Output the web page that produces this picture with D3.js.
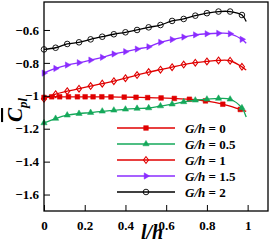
<!DOCTYPE html>
<html>
<head>
<meta charset="utf-8">
<script src="https://cdn.jsdelivr.net/npm/d3@7"></script>
<style>
  body { margin: 0; background: #fff; }
  text { font-family: "Liberation Serif", "Times New Roman", serif; font-weight: bold; }
</style>
</head>
<body>
<div id="chart"></div>
<script>
// l/h stations for the markers (last value is the line end, no marker)
var xSquares = [0, 0.038, 0.077, 0.12, 0.164, 0.202, 0.241, 0.284, 0.329, 0.394, 0.452, 0.509, 0.575, 0.64, 0.714, 0.793, 0.878, 0.964, 0.993];
var xCommon = [0, 0.057, 0.114, 0.172, 0.229, 0.286, 0.343, 0.4, 0.457, 0.514, 0.572, 0.629, 0.686, 0.743, 0.8, 0.857, 0.914, 0.972, 0.993];

// Cpl values
var gh0   = [-1.01, -1.006, -1.006, -1.006, -1.006, -1.006, -1.006, -1.006, -1.007, -1.008, -1.009, -1.011, -1.013, -1.016, -1.021, -1.031, -1.051, -1.083, -1.094];
var gh05  = [-1.165, -1.138, -1.118, -1.108, -1.102, -1.094, -1.088, -1.082, -1.077, -1.074, -1.062, -1.051, -1.037, -1.027, -1.021, -1.016, -1.021, -1.074, -1.129];
var gh1   = [-1.018, -0.99, -0.972, -0.957, -0.941, -0.926, -0.911, -0.893, -0.874, -0.856, -0.841, -0.826, -0.81, -0.799, -0.791, -0.785, -0.787, -0.824, -0.844];
var gh15  = [-0.862, -0.834, -0.813, -0.799, -0.783, -0.766, -0.746, -0.732, -0.716, -0.702, -0.675, -0.658, -0.643, -0.63, -0.623, -0.62, -0.623, -0.657, -0.681];
var gh2   = [-0.718, -0.708, -0.685, -0.675, -0.657, -0.641, -0.626, -0.614, -0.6, -0.584, -0.57, -0.545, -0.533, -0.513, -0.498, -0.488, -0.488, -0.509, -0.549];

var labels = ["0", "0.5", "1", "1.5", "2"];
var xTicks = [0, 0.2, 0.4, 0.6, 0.8, 1];
var yTicks = [-1.6, -1.4, -1.2, -1, -0.8, -0.6];

var series = [
  { name: labels[0], x: xSquares, y: gh0,  color: "#e00000", shape: "square",   fill: true },
  { name: labels[1], x: xCommon,  y: gh05, color: "#14a85a", shape: "triangle", fill: true },
  { name: labels[2], x: xCommon,  y: gh1,  color: "#e00000", shape: "diamond",  fill: false },
  { name: labels[3], x: xCommon,  y: gh15, color: "#8a2cff", shape: "right",    fill: true },
  { name: labels[4], x: xCommon,  y: gh2,  color: "#000000", shape: "circle",   fill: false }
];

var width = 271, height = 241;
var margin = { top: 2, right: 3, bottom: 30, left: 44 };

var svg = d3.select("#chart").append("svg")
    .attr("width", width)
    .attr("height", height);

var x = d3.scaleLinear().domain([0, 1.1]).range([margin.left, width - margin.right]);
var y = d3.scaleLinear().domain([-1.7, -0.43]).range([height - margin.bottom, margin.top]);

// marker shapes
function marker(sel, shape, color, fill) {
  var p;
  if (shape == "circle") {
    p = sel.append("circle").attr("r", 2.8);
  } else {
    var sym = { square: d3.symbolSquare, diamond: d3.symbolDiamond, triangle: d3.symbolTriangle, right: d3.symbolTriangle }[shape];
    var size = { square: 22, diamond: 13, triangle: 17, right: 17 }[shape];
    p = sel.append("path").attr("d", d3.symbol().type(sym).size(size)());
    if (shape == "right") p.attr("transform", "rotate(90)");
    if (shape == "diamond") p.attr("transform", "scale(1.3,1)");
  }
  p.attr("fill", fill ? color : "none")
   .attr("stroke", color)
   .attr("stroke-width", fill ? 0.5 : 0.9);
}

var line = d3.line()
    .x(function(d) { return x(d[0]); })
    .y(function(d) { return y(d[1]); })
    .curve(d3.curveCatmullRom);

// curves
series.forEach(function(s) {
  var pts = s.x.map(function(v, i) { return [v, s.y[i]]; });
  svg.append("path")
      .datum(pts)
      .attr("fill", "none")
      .attr("stroke", s.color)
      .attr("stroke-width", 1.3)
      .attr("d", line);
  svg.append("g").selectAll("g")
      .data(pts.slice(0, pts.length - 1))
      .enter().append("g")
      .attr("transform", function(d) { return "translate(" + x(d[0]) + "," + y(d[1]) + ")"; })
      .each(function() { marker(d3.select(this), s.shape, s.color, s.fill); });
});

// frame
svg.append("rect")
    .attr("x", margin.left).attr("y", margin.top)
    .attr("width", width - margin.left - margin.right)
    .attr("height", height - margin.top - margin.bottom)
    .attr("fill", "none").attr("stroke", "#000").attr("stroke-width", 1.3);

// axes with inward ticks
var xAxis = svg.append("g").attr("transform", "translate(0," + (height - margin.bottom) + ")");
xAxis.call(d3.axisBottom(x).tickValues(d3.range(0, 1.1001, 0.05)).tickSize(-3).tickFormat(""));
xAxis.call(d3.axisBottom(x).tickValues(xTicks).tickSize(-6).tickPadding(10).tickFormat(d3.format("")));
xAxis.selectAll(".domain").remove();
xAxis.selectAll("text").attr("font-size", 13).attr("fill", "#000");

var yAxis = svg.append("g").attr("transform", "translate(" + margin.left + ",0)");
yAxis.call(d3.axisLeft(y).tickValues(d3.range(-1.7, -0.43, 0.05)).tickSize(-3).tickFormat(""));
yAxis.call(d3.axisLeft(y).tickValues(yTicks).tickSize(-6).tickPadding(5).tickFormat(d3.format("")));
yAxis.selectAll(".domain").remove();
yAxis.selectAll("text").attr("font-size", 13).attr("fill", "#000");
svg.selectAll(".tick line").attr("stroke-width", 1);

// axis titles
svg.append("text")
    .attr("x", 152).attr("y", 239)
    .attr("text-anchor", "middle")
    .attr("font-size", 20).attr("font-style", "italic")
    .text("l/h");

var yt = svg.append("text")
    .attr("transform", "translate(22,110) rotate(-90)")
    .attr("text-anchor", "middle")
    .attr("font-style", "italic");
yt.append("tspan").attr("font-size", 21).attr("text-decoration", "overline").text("C");
yt.append("tspan").attr("font-size", 13).attr("dy", 5).text("pl");

// legend
var legend = svg.append("g").attr("class", "legend");
series.forEach(function(s, i) {
  var ly = 128 + i * 16;
  legend.append("line")
      .attr("x1", 117).attr("x2", 175)
      .attr("y1", ly).attr("y2", ly)
      .attr("stroke", s.color).attr("stroke-width", 1.3);
  marker(legend.append("g").attr("transform", "translate(146," + ly + ")"), s.shape, s.color, s.fill);
  var t = legend.append("text")
      .attr("x", 185).attr("y", ly + 4.5)
      .attr("font-size", 13);
  t.append("tspan").attr("font-style", "italic").text("G/h");
  t.append("tspan").text(" = " + s.name);
});
</script>
</body>
</html>
